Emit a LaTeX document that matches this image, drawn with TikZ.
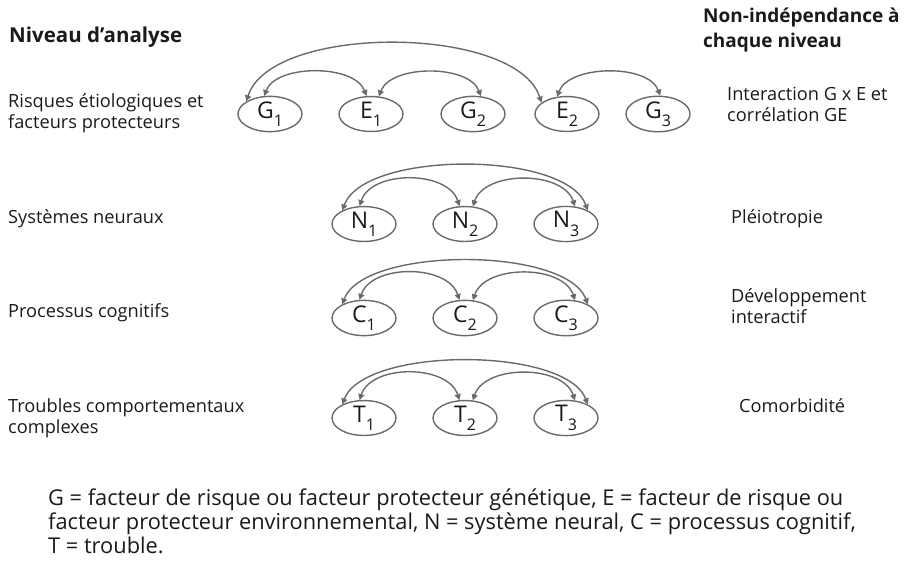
\documentclass[tikz,border=0pt]{standalone}
\usepackage{fontspec}
\setmainfont{Open Sans}
\usetikzlibrary{arrows.meta,shapes.geometric}
\definecolor{ln}{HTML}{6A6A6A}
\definecolor{tx}{HTML}{1A1A1A}
\newcommand{\vr}[2]{#1\raisebox{-0.36em}{\fontsize{16}{16}\selectfont #2}}
\begin{document}
\begin{tikzpicture}[x=1pt,y=-1pt,
  var/.style={draw=ln,line width=1.4pt,ellipse,minimum width=64pt,minimum height=32pt,inner sep=0pt,text=tx,font=\fontsize{23}{23}\selectfont},
  lbl/.style={anchor=base west,inner sep=0pt,text=tx,font=\fontsize{18.2}{18.2}\selectfont},
  hdr/.style={anchor=base west,inner sep=0pt,text=tx,font=\fontsize{19}{19}\selectfont\bfseries},
  foot/.style={anchor=base west,inner sep=0pt,text=tx,font=\fontsize{21.8}{21.8}\selectfont},
  arc/.style={draw=ln,line width=1.4pt,{Triangle[length=6pt,width=6pt]}-{Triangle[length=6pt,width=6pt]}}]
\useasboundingbox (0,0) rectangle (907,560);
% headers
\node[hdr,font=\fontsize{20.5}{20.5}\selectfont\bfseries] (h1) at (9,42) {Niveau d’analyse};
\node[hdr] (h2) at (703,22) {Non-indépendance à};
\node[hdr] (h3) at (703,47) {chaque niveau};
% left labels
\node[lbl] (l1a) at (8,107) {Risques étiologiques et};
\node[lbl] (l1b) at (8,128) {facteurs protecteurs};
\node[lbl] (l2) at (8,223) {Systèmes neuraux};
\node[lbl] (l3) at (8,317) {Processus cognitifs};
\node[lbl] (l4a) at (8,412) {Troubles comportementaux};
\node[lbl] (l4b) at (8,433) {complexes};
% right labels
\node[lbl] (r1a) at (727,100) {Interaction G x E et};
\node[lbl] (r1b) at (727,121) {corrélation GE};
\node[lbl] (r2) at (731,223) {Pléiotropie};
\node[lbl] (r3a) at (731,302) {Développement};
\node[lbl] (r3b) at (731,323) {interactif};
\node[lbl] (r4) at (739,412) {Comorbidité};
% row 1
\node[var] (G1) at (270,114) {\vr{G}{1}};
\node[var] (E1) at (371,114) {\vr{E}{1}};
\node[var] (G2) at (473,114) {\vr{G}{2}};
\node[var] (E2) at (567,114) {\vr{E}{2}};
\node[var] (G3) at (658,114) {\vr{G}{3}};
\draw[arc] (G1.152) .. controls +(25,-78) and +(-25,-78) .. (E2.156);
\draw[arc] (G1.108) .. controls +(12,-32) and +(-12,-32) .. (E1.104);
\draw[arc] (E1.66) .. controls +(12,-32) and +(-12,-32) .. (G2.66);
\draw[arc] (E2.120) .. controls +(12,-32) and +(-12,-32) .. (G3.83);
% row 2
\node[var] (N1) at (364,224) {\vr{N}{1}};
\node[var] (N2) at (465,224) {\vr{N}{2}};
\node[var] (N3) at (566,224) {\vr{N}{3}};
\draw[arc] (N1.148) .. controls +(22,-60) and +(-22,-60) .. (N3.32);
\draw[arc] (N1.104) .. controls +(12,-36) and +(-12,-36) .. (N2.107);
\draw[arc] (N2.66) .. controls +(12,-36) and +(-12,-36) .. (N3.63);
% row 3
\node[var] (C1) at (364,318) {\vr{C}{1}};
\node[var] (C2) at (465,318) {\vr{C}{2}};
\node[var] (C3) at (566,318) {\vr{C}{3}};
\draw[arc] (C1.148) .. controls +(22,-58) and +(-22,-58) .. (C3.32);
\draw[arc] (C1.104) .. controls +(12,-36) and +(-12,-36) .. (C2.107);
\draw[arc] (C2.66) .. controls +(12,-36) and +(-12,-36) .. (C3.63);
% row 4
\node[var] (T1) at (364,418) {\vr{T}{1}};
\node[var] (T2) at (465,418) {\vr{T}{2}};
\node[var] (T3) at (566,418) {\vr{T}{3}};
\draw[arc] (T1.148) .. controls +(22,-58) and +(-22,-58) .. (T3.32);
\draw[arc] (T1.104) .. controls +(12,-36) and +(-12,-36) .. (T2.107);
\draw[arc] (T2.66) .. controls +(12,-36) and +(-12,-36) .. (T3.63);
% footer
\node[foot] (f1) at (48,505) {G = facteur de risque ou facteur protecteur génétique, E = facteur de risque ou};
\node[foot] (f2) at (48,529) {facteur protecteur environnemental, N = système neural, C = processus cognitif,};
\node[foot] (f3) at (48,553) {T = trouble.};
\end{tikzpicture}
\end{document}
